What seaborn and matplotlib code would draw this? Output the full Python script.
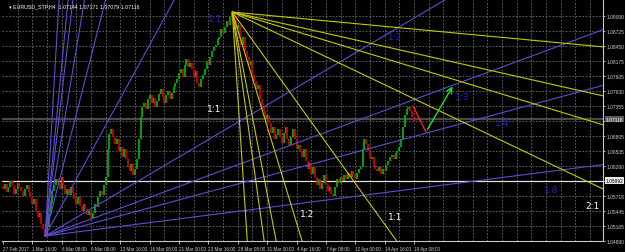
import matplotlib
matplotlib.use("Agg")
import matplotlib.pyplot as plt
import seaborn as sns
import numpy as np

# ---------------- data ----------------
first_open = 1.0590
closes = [
    1.0584, 1.0593, 1.0578, 1.0587, 1.0598, 1.0591, 1.0575, 1.0584, 1.0595, 1.0587, 1.0580, 1.0571,
    1.0584, 1.0591, 1.0578, 1.0569, 1.0556, 1.0566, 1.0544, 1.0533, 1.0540, 1.0520, 1.0511, 1.0500,
    1.0514, 1.0538, 1.0556, 1.0580, 1.0591, 1.0602,
    1.0595, 1.0584, 1.0606, 1.0591, 1.0575, 1.0584, 1.0573, 1.0587, 1.0577, 1.0566, 1.0556,
    1.0569, 1.0553, 1.0544, 1.0556, 1.0547, 1.0536, 1.0544, 1.0531,
    1.0540, 1.0556, 1.0551, 1.0569, 1.0580, 1.0573, 1.0591, 1.0606,
    1.0657, 1.0684, 1.0693,
    1.0679, 1.0666, 1.0675, 1.0653, 1.0661, 1.0642, 1.0657, 1.0639, 1.0624, 1.0617, 1.0630, 1.0609,
    1.0620, 1.0639, 1.0675, 1.0715, 1.0734, 1.0741,
    1.0730, 1.0748, 1.0756, 1.0741, 1.0750, 1.0734, 1.0745, 1.0757, 1.0767, 1.0752, 1.0741, 1.0756,
    1.0763, 1.0748, 1.0759, 1.0770, 1.0778,
    1.0785, 1.0796, 1.0803, 1.0788, 1.0810, 1.0821, 1.0807, 1.0814,
    1.0803, 1.0788, 1.0799, 1.0778, 1.0770, 1.0785, 1.0792, 1.0803, 1.0818, 1.0810, 1.0825, 1.0836,
    1.0843, 1.0847,
    1.0858, 1.0862, 1.0876, 1.0869, 1.0880, 1.0891, 1.0883, 1.0898, 1.0905,
    1.0894, 1.0876, 1.0883, 1.0858, 1.0847, 1.0862, 1.0836, 1.0825, 1.0810, 1.0818, 1.0792, 1.0781,
    1.0767, 1.0774, 1.0748, 1.0734,
    1.0726, 1.0712, 1.0719, 1.0704, 1.0686, 1.0697, 1.0675, 1.0683, 1.0693, 1.0679, 1.0668, 1.0686,
    1.0697, 1.0675, 1.0664, 1.0679, 1.0693, 1.0675, 1.0657, 1.0664, 1.0653,
    1.0642, 1.0657, 1.0635, 1.0620, 1.0631, 1.0611, 1.0624, 1.0606, 1.0591, 1.0602, 1.0584, 1.0595,
    1.0609, 1.0591, 1.0580, 1.0587, 1.0575, 1.0571,
    1.0587, 1.0602, 1.0595, 1.0606, 1.0598, 1.0609, 1.0602, 1.0613, 1.0606, 1.0617, 1.0609, 1.0602,
    1.0613, 1.0620, 1.0624,
    1.0657, 1.0675, 1.0666, 1.0653, 1.0639, 1.0642, 1.0628, 1.0620, 1.0617,
    1.0624, 1.0611, 1.0620, 1.0617, 1.0628, 1.0635, 1.0642,
    1.0646, 1.0639, 1.0650, 1.0653, 1.0661, 1.0675,
    1.0697, 1.0719, 1.0730, 1.0734,
    1.0726, 1.0715, 1.0708,
]

time_labels = ["27 Feb 2017", "1 Mar 16:00", "6 Mar 08:00", "9 Mar 00:00", "13 Mar 16:00",
               "16 Mar 08:00", "21 Mar 00:00", "23 Mar 16:00", "28 Mar 08:00", "31 Mar 00:00",
               "4 Apr 16:00", "7 Apr 08:00", "12 Apr 00:00", "14 Apr 16:00", "19 Apr 08:00"]
bars_per_label = 16

price_ticks = [1.09000, 1.08725, 1.08450, 1.08175, 1.07905, 1.07630, 1.07355, 1.07080,
               1.06805, 1.06535, 1.06260, 1.05985, 1.05718, 1.05445, 1.05165, 1.04890]
price_labels = ["1.09000", "1.08725", "1.08450", "1.08175", "1.07905", "1.07630", "1.07355", "",
                "1.06805", "1.06535", "1.06260", "", "1.05718", "1.05445", "1.05165", "1.04890"]

bid_price = 1.07116
hline_price = 1.05992
title_text = "EURUSD_STP,H4  1.07144 1.07171 1.07079 1.07116"

# Gann fan from the low (blue), slopes in price per bar
fan_low_origin = (23.0, 1.0498)
fan_low_slopes = [0.0000429, 0.0000905, 0.000124, 0.000198, 0.000613,
                  0.00131, 0.00201, 0.00285, 0.00345, 0.0057]
# Gann fan from the high (yellow), slopes in price per bar (downwards)
fan_high_origin = (125.0, 1.09072)
fan_high_slopes = [-0.0000315, -0.0000758, -0.000102, -0.000160, -0.000467,
                   -0.00110, -0.00175, -0.00241, -0.00513]

# projected path
trend_red = [(223.5, 1.07355), (230.5, 1.06880)]
trend_green = [(230.5, 1.06880), (245.8, 1.07757)]

white_labels = [("1:1", 115.0, 1.07318), ("1:2", 165.7, 1.05400),
                ("1:1", 213.6, 1.05345), ("2:1", 321.5, 1.05546)]
blue_labels = [("1:1", 115.5, 1.08945), ("1:2", 213.6, 1.08634), ("1:3", 250.0, 1.07538),
               ("1:4", 272.0, 1.07045), ("1:8", 298.6, 1.05839)]

# ---------------- drawing ----------------
sns.set_theme(style="dark")
small_font = ["Liberation Sans", "DejaVu Sans"]
plt.rcParams["font.family"] = ["DejaVu Sans"]

W, H = 625, 253
fig = plt.figure(figsize=(W / 100, H / 100), dpi=100, facecolor="black")
ax = fig.add_axes([2 / W, 11 / H, 601 / W, 241 / H], facecolor="black")

xlo, xhi = -0.5, 327.0
ylo, yhi = 1.04889, 1.09292
ax.set_xlim(xlo, xhi)
ax.set_ylim(ylo, yhi)

# grid
grid_kw = dict(color="#6e6e6e", lw=0.6, ls=(0, (2, 2)), zorder=0)
for p in price_ticks:
    ax.axhline(p, **grid_kw)
for b in np.arange(8, xhi, 8):
    ax.axvline(b, **grid_kw)

# candles
opens = [first_open] + closes[:-1]
idx = np.arange(len(closes))
up = [i for i in idx if closes[i] >= opens[i]]
dn = [i for i in idx if closes[i] < opens[i]]
ax.vlines(up, [opens[i] for i in up], [closes[i] for i in up], color="#00c000", lw=1.2, zorder=3)
ax.vlines(dn, [opens[i] for i in dn], [closes[i] for i in dn], color="#e00000", lw=1.2, zorder=3)

# fans
far = 600
ox, oy = fan_low_origin
for s in fan_low_slopes:
    ax.plot([ox, ox + far], [oy, oy + s * far], color="#5b4fd0", lw=0.8, zorder=4)
ox, oy = fan_high_origin
for s in fan_high_slopes:
    ax.plot([ox, ox + far], [oy, oy + s * far], color="#c8c800", lw=0.8, zorder=4)

# horizontal lines
ax.axhline(bid_price, color="#4a4a4a", lw=1.6, zorder=1)
ax.axhline(hline_price, color="#e0e0e0", lw=0.9, zorder=2)

# projected path
ax.plot(*zip(*trend_red), color="#ff2020", lw=1.0, zorder=5)
ax.annotate("", xy=trend_green[1], xytext=trend_green[0],
            arrowprops=dict(arrowstyle="->", color="#20e020", lw=1.0, mutation_scale=10), zorder=5)

for t, x, y in white_labels:
    ax.text(x, y, t, color="white", fontsize=6.5, ha="center", va="center", zorder=6)
for t, x, y in blue_labels:
    ax.text(x, y, t, color="#2424c8", fontsize=6.5, ha="center", va="center", zorder=6)

ax.text(0.012, 0.985, "\u25BE " + title_text, transform=ax.transAxes, color="white",
        fontsize=3.8, ha="left", va="top", zorder=7, family=small_font)

# axes styling
for side in ["left", "top"]:
    ax.spines[side].set_visible(False)
for side in ["right", "bottom"]:
    ax.spines[side].set_color("#c8c8c8")
    ax.spines[side].set_linewidth(0.8)

ax.yaxis.tick_right()
ax.set_yticks(price_ticks)
ax.set_yticklabels(price_labels, family=small_font)
ax.tick_params(axis="y", colors="#d0d0d0", labelsize=3.5, length=1.5, width=0.6, pad=0.8,
               right=True, left=False)
tick_pos = [i * bars_per_label for i in range(len(time_labels))]
ax.set_xticks(tick_pos)
ax.set_xticklabels(time_labels, ha="left", family=small_font)
ax.tick_params(axis="x", colors="#d0d0d0", labelsize=3.3, length=2, width=0.6, pad=1.5,
               bottom=True)
ax.grid(False)

# highlighted price labels
ax.text(1.004, bid_price, "1.07116", transform=ax.get_yaxis_transform(), color="white",
        fontsize=3.5, ha="left", va="center", family=small_font,
        bbox=dict(boxstyle="square,pad=0.15", fc="#5a5a5a", ec="none"), clip_on=False)
ax.text(1.004, hline_price, "1.05992", transform=ax.get_yaxis_transform(), color="black",
        fontsize=3.5, ha="left", va="center", family=small_font,
        bbox=dict(boxstyle="square,pad=0.15", fc="#e8e8e8", ec="none"), clip_on=False)

fig.savefig("out.png", dpi=100, facecolor="black")
